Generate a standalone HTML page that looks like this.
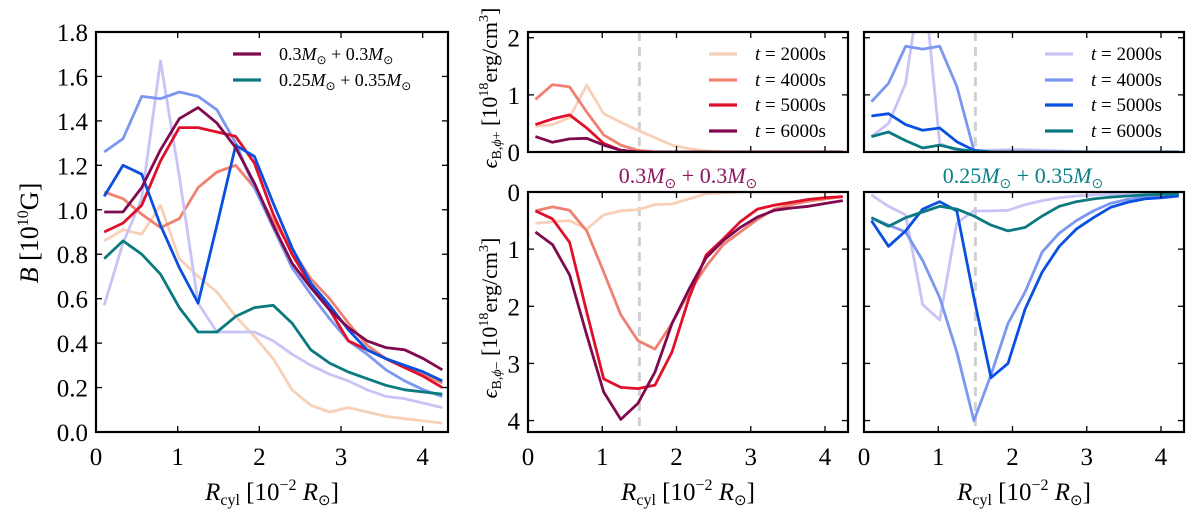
<!DOCTYPE html>
<html><head><meta charset="utf-8"><style>
html,body{margin:0;padding:0;background:#fff;}
svg{display:block;font-family:"Liberation Serif",serif;}
</style></head><body>
<svg id="fig" width="1200" height="512" viewBox="0 0 1200 512"></svg>
<script>
const xs=[0.1,0.33,0.56,0.79,1.02,1.25,1.48,1.71,1.94,2.17,2.4,2.63,2.86,3.09,3.32,3.55,3.78,4.01,4.24];
const timeLabels=["t = 2000s","t = 4000s","t = 5000s","t = 6000s"];
const redColors=["#f8d0b8","#f08070","#e0102a","#800a50"];
const blueColors=["#c8c4f6","#7b97f0","#0a50e0","#0a7a80"];
// left panel B field
const bRed2000=[0.86,0.91,0.89,1.02,0.78,0.70,0.63,0.52,0.43,0.33,0.19,0.12,0.09,0.11,0.09,0.07,0.06,0.05,0.04];
const bRed4000=[1.08,1.05,0.98,0.92,0.96,1.10,1.17,1.20,1.10,0.95,0.82,0.69,0.60,0.49,0.39,0.33,0.29,0.26,0.22];
const bRed5000=[0.90,0.94,1.02,1.22,1.37,1.37,1.35,1.33,1.21,0.98,0.80,0.66,0.55,0.41,0.37,0.33,0.29,0.25,0.20];
const bRed6000=[0.99,0.99,1.10,1.27,1.41,1.46,1.39,1.28,1.12,0.93,0.76,0.65,0.55,0.47,0.41,0.38,0.37,0.33,0.28];
const bBlue2000=[0.57,0.85,1.05,1.67,1.15,0.58,0.45,0.45,0.45,0.41,0.35,0.30,0.26,0.23,0.19,0.16,0.15,0.13,0.11];
const bBlue4000=[1.26,1.32,1.51,1.50,1.53,1.51,1.45,1.30,1.10,0.92,0.74,0.62,0.51,0.41,0.35,0.28,0.23,0.19,0.16];
const bBlue5000=[1.06,1.20,1.16,0.93,0.74,0.58,0.93,1.29,1.24,1.03,0.83,0.67,0.57,0.46,0.37,0.33,0.30,0.27,0.23];
const bBlue6000=[0.78,0.86,0.80,0.71,0.56,0.45,0.45,0.52,0.56,0.57,0.49,0.37,0.31,0.27,0.24,0.21,0.19,0.18,0.17];
// eps+ (top panels)
const pRed2000=[0.45,0.48,0.6,1.17,0.67,0.52,0.38,0.25,0.12,0.06,0.02,0,0,0,0,0,0,0,0];
const pRed4000=[0.92,1.18,1.14,0.7,0.3,0.12,0.03,0,0,0,0,0,0,0,0,0,0,0,0];
const pRed5000=[0.48,0.58,0.65,0.42,0.15,0.03,0,0,0,0,0,0,0,0,0,0,0,0,0];
const pRed6000=[0.27,0.17,0.23,0.24,0.12,0.03,0,0,0,0,0,0,0,0,0,0,0,0,0];
const pBlue2000=[0.27,0.5,1.2,3.2,0.15,0.02,0.02,0.03,0.04,0.04,0.03,0.02,0.01,0,0,0,0,0,0];
const pBlue4000=[0.88,1.2,1.85,1.8,1.85,1.15,0.03,0,0,0,0,0,0,0,0,0,0,0,0];
const pBlue5000=[0.63,0.67,0.48,0.38,0.42,0.18,0.03,0,0,0,0,0,0,0,0,0,0,0,0];
const pBlue6000=[0.27,0.35,0.2,0.07,0.12,0.05,0.01,0,0,0,0,0,0,0,0,0,0,0,0];
// eps- (bottom panels)
const mRed2000=[0.55,0.52,0.50,0.65,0.40,0.33,0.31,0.22,0.21,0.12,0.03,0.01,0,0,0,0,0,0,0];
const mRed4000=[0.33,0.26,0.32,0.68,1.4,2.15,2.6,2.75,2.3,1.75,1.3,0.92,0.7,0.48,0.3,0.22,0.16,0.12,0.08];
const mRed5000=[0.33,0.47,0.88,2.1,3.27,3.42,3.44,3.38,2.8,1.85,1.1,0.82,0.52,0.3,0.23,0.18,0.13,0.1,0.08];
const mRed6000=[0.7,0.92,1.45,2.5,3.5,3.98,3.7,3.15,2.3,1.7,1.15,0.85,0.62,0.44,0.32,0.28,0.25,0.2,0.15];
const mBlue2000=[0.05,0.25,0.4,1.97,2.24,0.54,0.33,0.33,0.32,0.22,0.15,0.1,0.07,0.05,0.04,0.03,0.02,0.02,0.02];
const mBlue4000=[0.45,0.58,0.7,1.2,1.85,2.8,4.0,3.2,2.3,1.75,1.05,0.72,0.5,0.33,0.2,0.13,0.09,0.07,0.05];
const mBlue5000=[0.5,0.95,0.68,0.3,0.17,0.33,1.85,3.25,3.0,2.05,1.4,0.95,0.65,0.45,0.27,0.18,0.12,0.1,0.07];
const mBlue6000=[0.45,0.6,0.45,0.35,0.25,0.3,0.42,0.58,0.68,0.62,0.42,0.25,0.17,0.12,0.09,0.07,0.05,0.04,0.03];
const xTicks=[0,1,2,3,4];
const bTicks=["0.0","0.2","0.4","0.6","0.8","1.0","1.2","1.4","1.6","1.8"];
const pTicks=[0,1,2];
const mTicks=[0,1,2,3,4];

const NS="http://www.w3.org/2000/svg";
const svg=document.getElementById('fig');
function mk(tag,attrs,parent){const e=document.createElementNS(NS,tag);for(const k in attrs)e.setAttribute(k,attrs[k]);(parent||svg).appendChild(e);return e;}

function panel(name,L,R,T,B,xmax,ymin,ymax,inverted,yTickVals,yTickText,series,colors,showX,showY,dashed){
  const g=mk('g',{});
  
  
  const sx=v=>L+(v/xmax)*(R-L);
  const sy=v=>inverted? T+(v-ymin)/(ymax-ymin)*(B-T) : B-(v-ymin)/(ymax-ymin)*(B-T);
  const cid='clip-'+name;
  const cp=mk('clipPath',{id:cid},g);mk('rect',{x:L,y:T,width:R-L,height:B-T},cp);
  if(dashed){
    const d=mk('line',{x1:sx(1.5),x2:sx(1.5),y1:T,y2:B,stroke:'#d0d0d0','stroke-width':3,'stroke-dasharray':'9,6'},g);
    
    
  }
  series.forEach((s,i)=>{
    const pts=xs.map((x,j)=>sx(x).toFixed(1)+','+sy(s[j]).toFixed(1)).join(' ');
    const pl=mk('polyline',{points:pts,fill:'none',stroke:colors[i],'stroke-width':2.8,'stroke-linejoin':'round','clip-path':'url(#'+cid+')'},g);
    
    
  });
  const fr=mk('rect',{x:L,y:T,width:R-L,height:B-T,fill:'none',stroke:'#000','stroke-width':2.2},g);
  
  
  xTicks.forEach(v=>{
    const x=sx(v);
    mk('line',{x1:x,x2:x,y1:B,y2:B-6,stroke:'#000','stroke-width':1.3},g);
    mk('line',{x1:x,x2:x,y1:T,y2:T+6,stroke:'#000','stroke-width':1.3},g);
    if(showX){const t=mk('text',{x:x,y:B+33,'font-size':25,'text-anchor':'middle'},g);t.textContent=v;
      
      }
  });
  yTickVals.forEach((v,i)=>{
    const y=sy(v);
    mk('line',{x1:L,x2:L+6,y1:y,y2:y,stroke:'#000','stroke-width':1.3},g);
    mk('line',{x1:R,x2:R-6,y1:y,y2:y,stroke:'#000','stroke-width':1.3},g);
    if(showY){const t=mk('text',{x:L-8,y:y+9,'font-size':25,'text-anchor':'end'},g);t.textContent=yTickText[i];
      
      }
  });
  return g;
}
function legend(name,x1,x2,tx,ys,labels,colors,fs){
  const g=mk('g',{});
  
  
  labels.forEach((lab,i)=>{
    mk('line',{x1:x1,x2:x2,y1:ys[i],y2:ys[i],stroke:colors[i],'stroke-width':3.2},g);
    const t=mk('text',{x:tx,y:ys[i]+6,'font-size':fs},g);
    t.innerHTML=lab;
    
    
  });
}
function txt(name,x,y,html,attrs){
  const t=mk('text',Object.assign({x:x,y:y},attrs));
  t.innerHTML=html;
  
  
  return t;
}
const bVals=bTicks.map(Number);
panel('b-field-panel',96,448,32,432,4.31,0,1.8,false,bVals,bTicks,
  [bRed2000,bRed4000,bBlue2000,bBlue4000,bRed5000,bBlue5000,bRed6000,bBlue6000],
  [redColors[0],redColors[1],blueColors[0],blueColors[1],redColors[2],blueColors[2],redColors[3],blueColors[3]],true,true,false);
legend('b-legend',233,261,279,[54,80],['0.3<tspan font-style="italic">M</tspan><tspan font-size="12" dy="4">⊙</tspan><tspan dy="-4"> + 0.3</tspan><tspan font-style="italic">M</tspan><tspan font-size="12" dy="4">⊙</tspan>','0.25<tspan font-style="italic">M</tspan><tspan font-size="12" dy="4">⊙</tspan><tspan dy="-4"> + 0.35</tspan><tspan font-style="italic">M</tspan><tspan font-size="12" dy="4">⊙</tspan>'],[redColors[3],blueColors[3]],18);
panel('eps-plus-red-panel',528,848,32,152,4.31,0,2.1,false,pTicks,pTicks.map(String),[pRed2000,pRed4000,pRed5000,pRed6000],redColors,false,true,true);
panel('eps-minus-red-panel',528,848,192,432,4.31,0,4.2,true,mTicks,mTicks.map(String),[mRed2000,mRed4000,mRed5000,mRed6000],redColors,true,true,true);
legend('red-time-legend',709,737,755,[54,80,105,131],timeLabels.map(s=>'<tspan font-style="italic">t</tspan> = '+s.slice(4)),redColors,19);
panel('eps-plus-blue-panel',864,1184,32,152,4.31,0,2.1,false,pTicks,pTicks.map(String),[pBlue2000,pBlue4000,pBlue5000,pBlue6000],blueColors,false,false,true);
panel('eps-minus-blue-panel',864,1184,192,432,4.31,0,4.2,true,mTicks,mTicks.map(String),[mBlue2000,mBlue4000,mBlue5000,mBlue6000],blueColors,true,false,true);
legend('blue-time-legend',1045,1073,1091,[54,80,105,131],timeLabels.map(s=>'<tspan font-style="italic">t</tspan> = '+s.slice(4)),blueColors,19);
txt('red-panel-title',688,183,'0.3<tspan font-style="italic">M</tspan><tspan font-size="14" dy="5">⊙</tspan><tspan dy="-5"> + 0.3</tspan><tspan font-style="italic">M</tspan><tspan font-size="14" dy="5">⊙</tspan>',{'font-size':22,'text-anchor':'middle',fill:'#8a1460'});
txt('blue-panel-title',1023,183,'0.25<tspan font-style="italic">M</tspan><tspan font-size="14" dy="5">⊙</tspan><tspan dy="-5"> + 0.35</tspan><tspan font-style="italic">M</tspan><tspan font-size="14" dy="5">⊙</tspan>',{'font-size':22,'text-anchor':'middle',fill:'#0a8088'});
const xl='<tspan font-style="italic">R</tspan><tspan font-size="16" dy="5">cyl</tspan><tspan dy="-5"> [10</tspan><tspan font-size="16" dy="-10">−2</tspan><tspan dy="10"> </tspan><tspan font-style="italic">R</tspan><tspan font-size="15" dy="5">⊙</tspan><tspan dy="-5">]</tspan>';
txt('x-axis-title-left',272,500,xl,{'font-size':25,'text-anchor':'middle'});
txt('x-axis-title-middle',688,500,xl,{'font-size':25,'text-anchor':'middle'});
txt('x-axis-title-right',1024,500,xl,{'font-size':25,'text-anchor':'middle'});
txt('y-axis-title-left',0,0,'<tspan font-style="italic">B</tspan> [10<tspan font-size="16" dy="-10">10</tspan><tspan dy="10">G]</tspan>',{'font-size':26,'text-anchor':'middle',transform:'translate(38,233) rotate(-90)'});
txt('y-axis-title-top',0,0,'<tspan font-style="italic">ϵ</tspan><tspan font-size="14" dy="4">B,<tspan font-style="italic">ϕ</tspan>+</tspan><tspan dy="-4"> [10</tspan><tspan font-size="14" dy="-9">18</tspan><tspan dy="9">erg/cm</tspan><tspan font-size="14" dy="-9">3</tspan><tspan dy="9">]</tspan>',{'font-size':22,'text-anchor':'middle',transform:'translate(497,88) rotate(-90)'});
txt('y-axis-title-bottom',0,0,'<tspan font-style="italic">ϵ</tspan><tspan font-size="14" dy="4">B,<tspan font-style="italic">ϕ</tspan>−</tspan><tspan dy="-4"> [10</tspan><tspan font-size="14" dy="-9">18</tspan><tspan dy="9">erg/cm</tspan><tspan font-size="14" dy="-9">3</tspan><tspan dy="9">]</tspan>',{'font-size':22,'text-anchor':'middle',transform:'translate(497,318) rotate(-90)'});
</script>
</body></html>
